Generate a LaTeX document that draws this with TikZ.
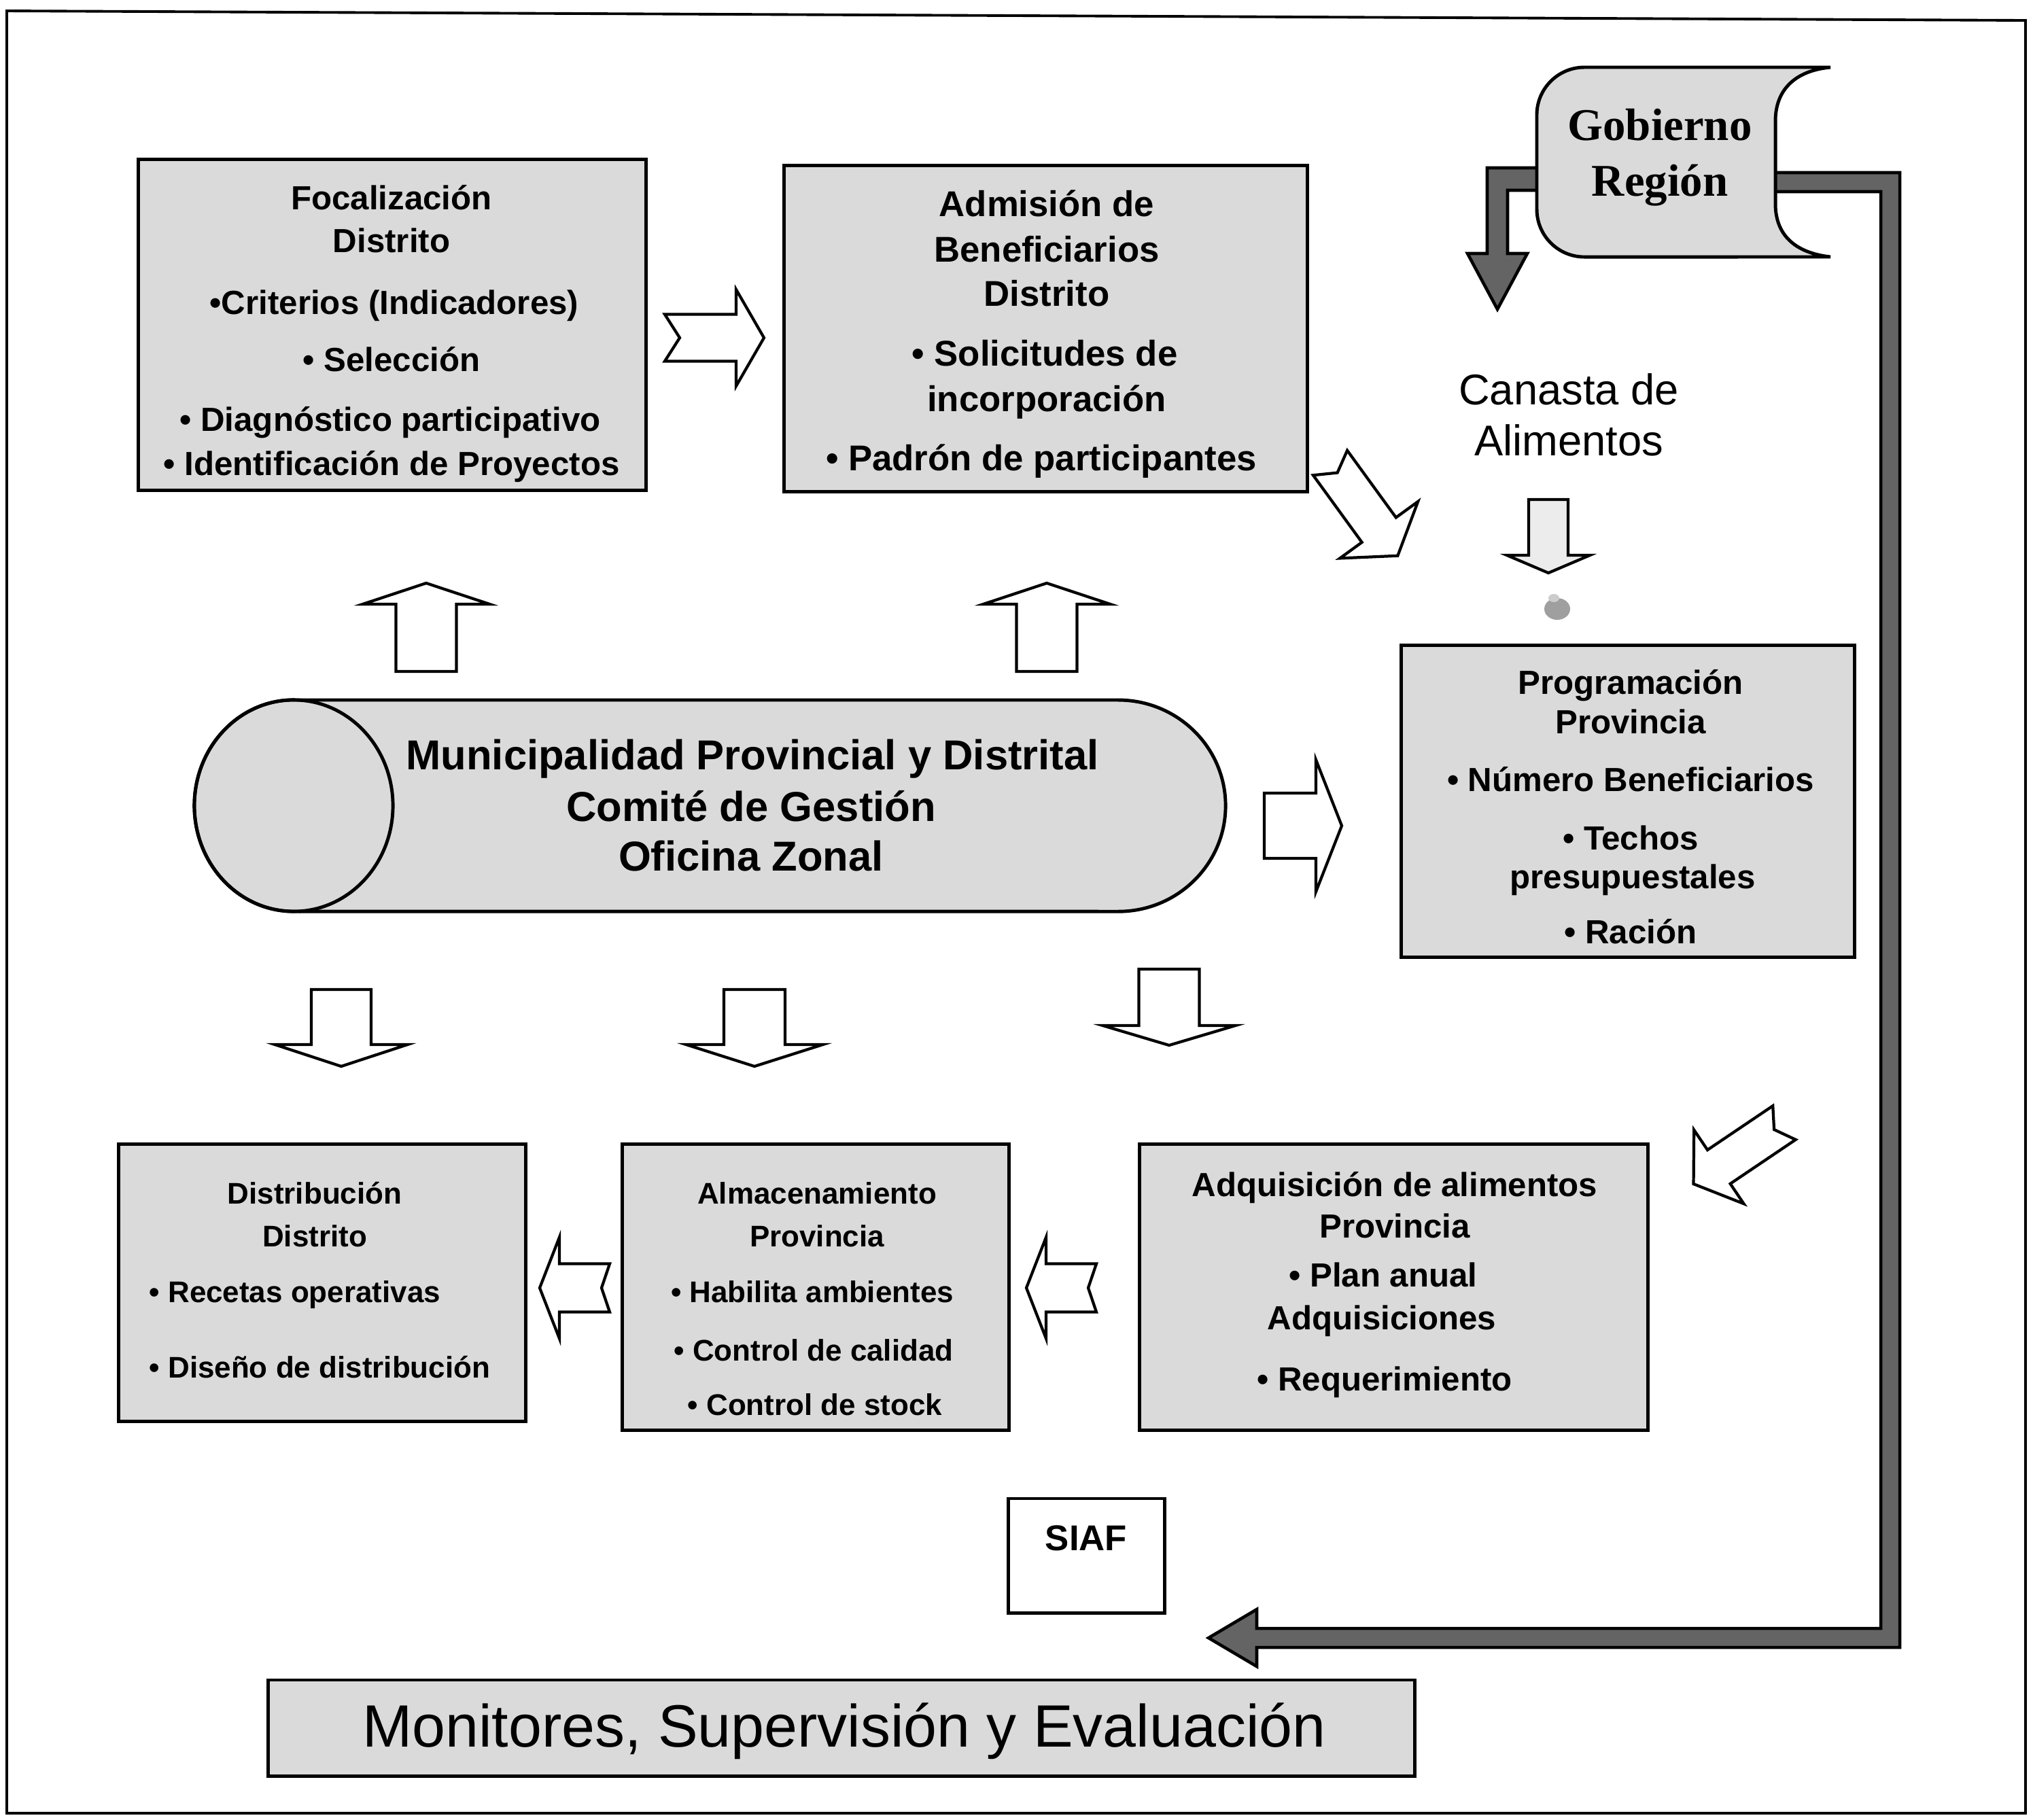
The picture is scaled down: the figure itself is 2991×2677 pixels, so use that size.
\documentclass[tikz,border=0pt]{standalone}
\usepackage{fontspec}
\setmainfont{Liberation Sans}
\newfontfamily\gobfont{Liberation Serif}
\usetikzlibrary{calc}
\definecolor{boxgray}{RGB}{218,218,218}
\definecolor{bargray}{RGB}{100,100,100}
\definecolor{arrfill}{RGB}{236,236,236}
% tail x, tail y, angle, length, shaft width, head width, head length, notch, fill
\newcommand{\blkarrow}[9]{%
  \begin{scope}[shift={(#1,#2)},rotate=#3]
    \draw[line width=1.2pt,fill=#9,line join=miter]
      (0,{-#5/2}) -- ({#4-#7},{-#5/2}) -- ({#4-#7},{-#6/2}) -- (#4,0)
      -- ({#4-#7},{#6/2}) -- ({#4-#7},{#5/2}) -- (0,{#5/2}) -- (#8,0) -- cycle;
  \end{scope}}
\tikzset{
  gbox/.style={draw, line width=1.4pt, fill=boxgray, rectangle, inner sep=0pt},
  tl/.style={anchor=base, inner sep=0pt},
  tlw/.style={anchor=base west, inner sep=0pt},
  focf/.style={font=\bfseries\fontsize{14}{16}\selectfont},
  admf/.style={font=\bfseries\fontsize{15}{18}\selectfont},
  lowf/.style={font=\bfseries\fontsize{12.5}{15}\selectfont},
  cylf/.style={font=\bfseries\fontsize{17.5}{20}\selectfont},
  canf/.style={font=\fontsize{18}{21}\selectfont},
  gobf/.style={font=\gobfont\bfseries\fontsize{19}{24}\selectfont},
  siaff/.style={font=\bfseries\fontsize{15}{18}\selectfont},
  monf/.style={font=\fontsize{25}{30}\selectfont}
}
\begin{document}
\begin{tikzpicture}[x=0.01cm,y=-0.01cm]
\useasboundingbox (0,0) rectangle (2991,2677);
% outer frame
\draw[line width=1.1pt] (10,16) -- (2980,30) -- (2980,2668) -- (10,2668) -- cycle;

% ---------- dark connectors from Gobierno Region ----------
\draw[line width=1.3pt, fill=bargray, line join=miter]
  (2600,254) -- (2795,254) -- (2795,2424) -- (1849,2424) -- (1849,2452)
  -- (1778,2410) -- (1849,2368) -- (1849,2396) -- (2767,2396) -- (2767,282)
  -- (2600,282) -- cycle;
\draw[line width=1.3pt, fill=bargray, line join=miter]
  (2280,247) -- (2188,247) -- (2188,373) -- (2159,373) -- (2203,455)
  -- (2247,373) -- (2218,373) -- (2218,280) -- (2280,280) -- cycle;

% ---------- Gobierno Region ----------
\draw[line width=1.4pt, fill=boxgray]
  (2693,99) -- (2331,99) arc[start angle=90,end angle=180,radius=0.7cm]
  -- (2261,308) arc[start angle=180,end angle=270,radius=0.7cm]
  -- (2693,378) .. controls (2640,372) and (2612,345) .. (2612,300)
  -- (2612,178) .. controls (2612,133) and (2640,104) .. (2693,99);
\node[tl,gobf] (gob1) at (2442,206) {Gobierno};
\node[tl,gobf] (gob2) at (2442,288) {Región};

% ---------- Focalizacion ----------
\node[gbox, minimum width=7.46cm, minimum height=4.86cm] (foc) at (577,478) {};
\node[tl,focf] (foc1) at (576,308) {Focalización};
\node[tl,focf] (foc2) at (576,371) {Distrito};
\node[tl,focf] (foc3) at (580,462) {•Criterios (Indicadores)};
\node[tl,focf] (foc4) at (576,546) {• Selección};
\node[tl,focf] (foc5) at (574,634) {• Diagnóstico participativo};
\node[tl,focf] (foc6) at (576,699) {• Identificación de Proyectos};

% ---------- Admision ----------
\node[gbox, minimum width=7.69cm, minimum height=4.79cm] (adm) at (1538.5,483.5) {};
\node[tl,admf] (adm1) at (1540,318) {Admisión de};
\node[tl,admf] (adm2) at (1540,385) {Beneficiarios};
\node[tl,admf] (adm3) at (1540,450) {Distrito};
\node[tl,admf] (adm4) at (1537,538) {• Solicitudes de};
\node[tl,admf] (adm5) at (1540,605) {incorporación};
\node[tl,admf] (adm6) at (1532,692) {• Padrón de participantes};

% ---------- Canasta ----------
\node[tl,canf] (can1) at (2308,595) {Canasta de};
\node[tl,canf] (can2) at (2308,670) {Alimentos};

% ---------- Programacion ----------
\node[gbox, minimum width=6.66cm, minimum height=4.58cm] (prog) at (2395,1179) {};
\node[tl,focf] (prog1) at (2399,1021) {Programación};
\node[tl,focf] (prog2) at (2399,1079) {Provincia};
\node[tl,focf] (prog3) at (2399,1164) {• Número Beneficiarios};
\node[tl,focf] (prog4) at (2399,1250) {• Techos};
\node[tl,focf] (prog5) at (2402,1307) {presupuestales};
\node[tl,focf] (prog6) at (2399,1388) {• Ración};

% ---------- Cylinder ----------
\draw[line width=1.4pt, fill=boxgray]
  (432,1030) -- (1645,1030) arc[start angle=90,end angle=-90,x radius=1.58cm,y radius=1.555cm]
  -- (432,1341) arc[start angle=270,end angle=90,x radius=1.46cm,y radius=1.555cm] -- cycle;
\draw[line width=1.4pt] (432,1185.5) ellipse [x radius=1.46cm, y radius=1.555cm];
\node[tl,cylf] (cyl1) at (1107,1132) {Municipalidad Provincial y Distrital};
\node[tl,cylf] (cyl2) at (1105,1208) {Comité de Gestión};
\node[tl,cylf] (cyl3) at (1105,1281) {Oficina Zonal};

% ---------- lower boxes ----------
\node[gbox, minimum width=5.98cm, minimum height=4.07cm] (dist) at (474,1887.5) {};
\node[tl,lowf] (dist1) at (463,1771) {Distribución};
\node[tl,lowf] (dist2) at (463,1834) {Distrito};
\node[tlw,lowf] (dist3) at (219,1916) {• Recetas operativas};
\node[tlw,lowf] (dist4) at (219,2027) {• Diseño de distribución};

\node[gbox, minimum width=5.68cm, minimum height=4.20cm] (alm) at (1200,1894) {};
\node[tl,lowf] (alm1) at (1202,1771) {Almacenamiento};
\node[tl,lowf] (alm2) at (1202,1834) {Provincia};
\node[tl,lowf] (alm3) at (1195,1916) {• Habilita ambientes};
\node[tl,lowf] (alm4) at (1197,2002) {• Control de calidad};
\node[tl,lowf] (alm5) at (1199,2082) {• Control de stock};

\node[gbox, minimum width=7.47cm, minimum height=4.20cm] (adq) at (2050.5,1894) {};
\node[tl,focf] (adq1) at (2052,1760) {Adquisición de alimentos};
\node[tl,focf] (adq2) at (2052,1821) {Provincia};
\node[tl,focf] (adq3) at (2035,1893) {• Plan anual};
\node[tl,focf] (adq4) at (2033,1956) {Adquisiciones};
\node[tl,focf] (adq5) at (2037,2046) {• Requerimiento};

% ---------- SIAF ----------
\node[draw, line width=1.4pt, fill=white, inner sep=0pt, minimum width=2.29cm, minimum height=1.68cm] (siaf) at (1598.5,2289) {};
\node[tl,siaff] (siaf1) at (1598,2281) {SIAF};

% ---------- Monitores ----------
\node[gbox, minimum width=16.86cm, minimum height=1.41cm] (mon) at (1238,2542.5) {};
\node[tl,monf] (mon1) at (1242,2570) {Monitores, Supervisión y Evaluación};

% ---------- block arrows ----------
\blkarrow{978}{497}{0}{146}{69}{142}{41}{22}{white}
\blkarrow{1957}{681}{-54}{169}{62}{142}{47}{18}{white}
\blkarrow{2278}{735}{-90}{108}{58}{122}{26}{0}{arrfill}
\blkarrow{627}{988}{90}{130}{89}{187}{31}{0}{white}
\blkarrow{1540}{988}{90}{130}{89}{187}{31}{0}{white}
\blkarrow{1860}{1215}{0}{114}{96}{194}{38}{0}{white}
\blkarrow{502}{1456}{-90}{113}{88}{195}{32}{0}{white}
\blkarrow{1110}{1456}{-90}{113}{90}{201}{32}{0}{white}
\blkarrow{1720}{1426}{-90}{112}{89}{195}{29}{0}{white}
\blkarrow{897}{1895}{180}{103}{71}{149}{29}{12}{white}
\blkarrow{1613}{1895}{180}{103}{71}{149}{29}{12}{white}
\blkarrow{2625}{1652}{-146}{161}{60}{131}{45}{18}{white}

% small icon below Canasta arrow
\fill[gray!75] (2291,896) ellipse [x radius=0.19cm, y radius=0.16cm];
\fill[gray!40] (2286,880) ellipse [x radius=0.08cm, y radius=0.06cm];
\end{tikzpicture}
\end{document}
